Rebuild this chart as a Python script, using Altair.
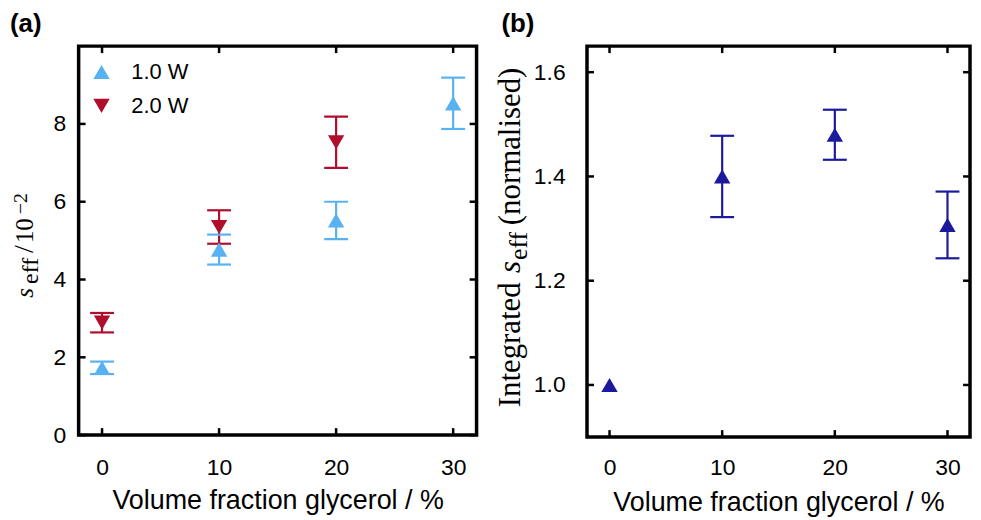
import altair as alt
import pandas as pd

# ---------------- data ----------------
glycerol = [0, 10, 20, 30]
series_names = ["1.0 W", "2.0 W"]

s_1w = [1.73, 4.77, 5.52, 8.53]
err_1w = [0.16, 0.385, 0.48, 0.66]

glycerol_2w = [0, 10, 20]
s_2w = [2.89, 5.35, 7.53]
err_2w = [0.25, 0.43, 0.66]

integ = [1.00, 1.40, 1.48, 1.307]
err_integ = [None, 0.078, 0.048, 0.064]

x_ticks = [0, 10, 20, 30]
ya_ticks = [0, 2, 4, 6, 8]
yb_ticks = [1.0, 1.2, 1.4, 1.6]

# ---------------- styling ----------------
SANS = "Liberation Sans"
SERIF = "Liberation Serif"
BLUE = "#58B2F2"
RED = "#AF0F2D"
NAVY = "#1C1A9C"

W_A, H_A = 400, 391
W_B, H_B = 385, 393
TICK_LEN = 7

df_a = pd.DataFrame({
    "x": glycerol + glycerol_2w,
    "y": s_1w + s_2w,
    "err": err_1w + err_2w,
    "series": [series_names[0]] * len(glycerol) + [series_names[1]] * len(glycerol_2w),
})
df_a["lo"] = df_a["y"] - df_a["err"]
df_a["hi"] = df_a["y"] + df_a["err"]

df_b = pd.DataFrame({"x": glycerol, "y": integ, "err": err_integ})
df_b_err = df_b.dropna().copy()
df_b_err["lo"] = df_b_err["y"] - df_b_err["err"]
df_b_err["hi"] = df_b_err["y"] + df_b_err["err"]

xs = alt.Scale(domain=[-2, 32], nice=False, zero=False)
ys_a = alt.Scale(domain=[0, 10], nice=False, zero=False)
ys_b = alt.Scale(domain=[0.9, 1.65], nice=False, zero=False)

color_scale = alt.Scale(domain=series_names, range=[BLUE, RED])
shape_scale = alt.Scale(domain=series_names, range=["triangle-up", "triangle-down"])


def x_axis(label_pad, title_pad):
    return alt.Axis(values=x_ticks, ticks=False, tickSize=0, domain=False, grid=False,
                    labelFontSize=23, labelFont=SANS, labelColor="black",
                    labelPadding=label_pad, labelFlush=False,
                    title="Volume fraction glycerol / %", titleFontSize=27,
                    titleFont=SANS, titleFontWeight="normal", titleColor="black",
                    titlePadding=title_pad)


def y_axis(values, fmt, label_pad):
    return alt.Axis(values=values, format=fmt, ticks=False, tickSize=0, domain=False,
                    grid=False, labelFontSize=23, labelFont=SANS, labelColor="black",
                    labelPadding=label_pad, labelFlush=False, title=None)


XA = x_axis(22, 8)
XB = x_axis(20, 10)
YA = y_axis(ya_ticks, "d", 13)
YB = y_axis(yb_ticks, ".1f", 22)


def frame_ticks(xscale, xaxis, yscale, yaxis, yvals, w, h):
    tx = pd.DataFrame({"t": x_ticks})
    ty = pd.DataFrame({"t": yvals})
    base = dict(color="black", strokeWidth=2.5)
    top = alt.Chart(tx).mark_rule(**base).encode(
        x=alt.X("t:Q", scale=xscale, axis=xaxis), y=alt.value(0), y2=alt.value(TICK_LEN))
    bot = alt.Chart(tx).mark_rule(**base).encode(
        x=alt.X("t:Q", scale=xscale, axis=xaxis), y=alt.value(h), y2=alt.value(h - TICK_LEN))
    left = alt.Chart(ty).mark_rule(**base).encode(
        y=alt.Y("t:Q", scale=yscale, axis=yaxis), x=alt.value(0), x2=alt.value(TICK_LEN))
    right = alt.Chart(ty).mark_rule(**base).encode(
        y=alt.Y("t:Q", scale=yscale, axis=yaxis), x=alt.value(w), x2=alt.value(w - TICK_LEN))
    return [top, bot, left, right]


def label_text(text, x, y, size, font=SERIF, style="normal", weight="normal",
               angle=270, baseline="alphabetic"):
    return alt.Chart(pd.DataFrame({"k": [0]})).mark_text(
        text=text, angle=angle, align="left", baseline=baseline, font=font,
        fontSize=size, fontStyle=style, fontWeight=weight, color="black"
    ).encode(x=alt.value(x), y=alt.value(y))


# ---------------- panel (a) ----------------
col_noleg = alt.Color("series:N", scale=color_scale, legend=None)
err_rule_a = alt.Chart(df_a).mark_rule(strokeWidth=2.2).encode(
    x=alt.X("x:Q", scale=xs, axis=XA),
    y=alt.Y("lo:Q", scale=ys_a, axis=YA), y2="hi:Q", color=col_noleg)
cap_lo_a = alt.Chart(df_a).mark_tick(orient="horizontal", thickness=2.2, size=24, opacity=1).encode(
    x=alt.X("x:Q", scale=xs, axis=XA), y=alt.Y("lo:Q", scale=ys_a, axis=YA), color=col_noleg)
cap_hi_a = alt.Chart(df_a).mark_tick(orient="horizontal", thickness=2.2, size=24, opacity=1).encode(
    x=alt.X("x:Q", scale=xs, axis=XA), y=alt.Y("hi:Q", scale=ys_a, axis=YA), color=col_noleg)
errors_a = alt.layer(err_rule_a, cap_lo_a, cap_hi_a)

points_a = alt.Chart(df_a).mark_point(filled=True, size=270, opacity=1, strokeWidth=0).encode(
    x=alt.X("x:Q", scale=xs, axis=XA),
    y=alt.Y("y:Q", scale=ys_a, axis=YA),
    color=alt.Color("series:N", scale=color_scale, legend=alt.Legend(title=None)),
    shape=alt.Shape("series:N", scale=shape_scale, legend=alt.Legend(title=None)),
)

title_a = [
    label_text("s", -46, 253, 25, style="italic"),
    label_text("eff", -41, 239, 24),
    label_text("/", -46, 208, 28),
    label_text("10", -46, 198, 25),
    label_text("\u22122", -52, 169, 20),
    label_text("(a)", -69, -35, 26, font=SANS, weight="bold", angle=0, baseline="top"),
]

panel_a = alt.layer(
    errors_a, points_a, *frame_ticks(xs, XA, ys_a, YA, ya_ticks, W_A, H_A), *title_a
).resolve_scale(color="independent", shape="independent").properties(width=W_A, height=H_A)

# ---------------- panel (b) ----------------
err_rule_b = alt.Chart(df_b_err).mark_rule(strokeWidth=2.2, color=NAVY).encode(
    x=alt.X("x:Q", scale=xs, axis=XB),
    y=alt.Y("lo:Q", scale=ys_b, axis=YB), y2="hi:Q")
cap_lo_b = alt.Chart(df_b_err).mark_tick(orient="horizontal", thickness=2.2, size=24, opacity=1, color=NAVY).encode(
    x=alt.X("x:Q", scale=xs, axis=XB), y=alt.Y("lo:Q", scale=ys_b, axis=YB))
cap_hi_b = alt.Chart(df_b_err).mark_tick(orient="horizontal", thickness=2.2, size=24, opacity=1, color=NAVY).encode(
    x=alt.X("x:Q", scale=xs, axis=XB), y=alt.Y("hi:Q", scale=ys_b, axis=YB))
points_b = alt.Chart(df_b).mark_point(filled=True, size=270, opacity=1, strokeWidth=0,
                                      shape="triangle-up", color=NAVY).encode(
    x=alt.X("x:Q", scale=xs, axis=XB), y=alt.Y("y:Q", scale=ys_b, axis=YB))

title_b = [
    label_text("Integrated", -67, 363, 31),
    label_text("s", -67, 228, 31, style="italic"),
    label_text("eff", -60, 215, 26),
    label_text("(normalised)", -67, 180, 31),
    label_text("(b)", -86, -35, 26, font=SANS, weight="bold", angle=0, baseline="top"),
]

panel_b = alt.layer(
    err_rule_b, cap_lo_b, cap_hi_b, points_b,
    *frame_ticks(xs, XB, ys_b, YB, yb_ticks, W_B, H_B), *title_b
).properties(width=W_B, height=H_B)

chart = alt.hconcat(panel_a, panel_b, spacing=111, bounds="flush").properties(
    padding={"left": 0, "top": 0, "right": 0, "bottom": 0}
).configure_view(
    stroke="black", strokeWidth=3.5
).configure_legend(
    orient="none", legendX=12, legendY=15, padding=0, symbolSize=270,
    symbolStrokeWidth=0, symbolOpacity=1, labelFontSize=22, labelFont=SANS,
    labelColor="black", labelOffset=19, rowPadding=12
)

chart.save("out.html", embed_options={"renderer": "svg", "actions": False})
